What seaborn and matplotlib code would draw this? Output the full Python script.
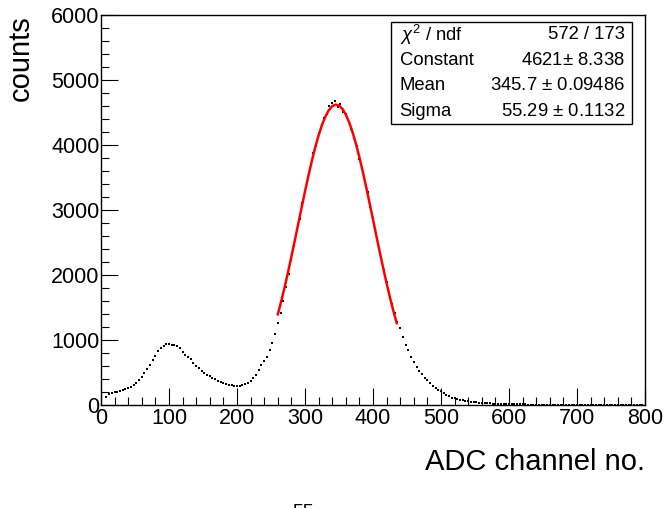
"""ADC spectrum with gaussian fit on the main peak (ROOT-like look)."""
import numpy as np
import pandas as pd
import matplotlib
matplotlib.use('Agg')
import matplotlib.pyplot as plt
import seaborn as sns
from matplotlib.ticker import MultipleLocator

# histogram bin centres (channel) and counts
channel = np.arange(8, 800, 4)
counts = [
    128, 165, 180, 192, 205, 215, 228, 245, 262, 280,
    305, 340, 385, 430, 490, 555, 620, 690, 760, 830,
    880, 915, 935, 940, 930, 925, 905, 870, 815, 775,
    735, 700, 640, 600, 565, 530, 495, 465, 440, 415,
    395, 375, 355, 340, 325, 310, 300, 295, 285, 290,
    305, 320, 340, 370, 410, 465, 540, 610, 680, 745,
    840, 960, 1090, 1260, 1420, 1600, 1810, 2010, 2230, 2440,
    2700, 2860, 3110, 3270, 3500, 3650, 3870, 3990, 4180, 4260,
    4420, 4470, 4600, 4650, 4670, 4580, 4630, 4510, 4480, 4350,
    4240, 4100, 3990, 3790, 3650, 3430, 3270, 3040, 2870, 2640,
    2460, 2270, 2080, 1890, 1720, 1560, 1410, 1280, 1180, 1040,
    930, 840, 740, 660, 590, 530, 470, 420, 380, 335,
    295, 265, 235, 210, 180, 155, 135, 115, 100, 88,
    78, 70, 62, 55, 50, 45, 40, 36, 33, 30,
    27, 25, 22, 20, 18, 17, 15, 14, 12, 11,
    10, 10, 9, 8, 8, 7, 7, 6, 6, 5,
    5, 5, 4, 4, 4, 3, 4, 3, 3, 3,
    3, 2, 3, 2, 2, 2, 2, 2, 1, 2,
    1, 2, 1, 1, 1, 1, 1, 1, 1, 1,
    1, 0, 1, 1, 0, 1, 0, 1,
]

# red fit curve, read at 5-channel steps over the fit range
fit_x = list(range(260, 440, 5))
fit_y = [1390, 1593, 1810, 2040, 2281, 2530, 2782, 3035, 3284, 3524,
         3751, 3961, 4148, 4308, 4438, 4535, 4597, 4621, 4607, 4556,
         4469, 4348, 4195, 4016, 3812, 3590, 3352, 3105, 2853, 2600,
         2350, 2107, 1873, 1652, 1445, 1254]

stat_names = [r'$\chi^{2}$ / ndf', 'Constant', 'Mean', 'Sigma']
stat_values = ['572 / 173', '4621$\\pm$ 8.338', '345.7 $\\pm$ 0.09486',
               '55.29 $\\pm$ 0.1132']

sns.set_style('ticks')
plt.rcParams['font.family'] = ['Liberation Sans', 'DejaVu Sans']
plt.rcParams['mathtext.fontset'] = 'custom'
plt.rcParams['mathtext.rm'] = 'Liberation Sans'
plt.rcParams['mathtext.it'] = 'Liberation Sans:italic'
for key in ['text.color', 'axes.labelcolor', 'xtick.color', 'ytick.color',
            'axes.edgecolor']:
    plt.rcParams[key] = 'black'

df = pd.DataFrame({'channel': channel, 'counts': counts})
fit = pd.DataFrame({'x': fit_x, 'y': fit_y})

fig = plt.figure(figsize=(6.7, 5.08), dpi=100)
ax = fig.add_axes([0.1507, 0.2028, 0.812, 0.7677])

sns.scatterplot(data=df, x='channel', y='counts', ax=ax, color='black',
                s=4, marker='s', linewidth=0, legend=False)
sns.lineplot(data=fit, x='x', y='y', ax=ax, color='red', linewidth=1.8,
             legend=False)

ax.set_xlim(0, 800)
ax.set_ylim(0, 6000)
ax.xaxis.set_major_locator(MultipleLocator(100))
ax.xaxis.set_minor_locator(MultipleLocator(20))
ax.yaxis.set_major_locator(MultipleLocator(1000))
ax.yaxis.set_minor_locator(MultipleLocator(200))
ax.tick_params(which='both', direction='in', top=False, right=False,
               labelsize=15.5, width=0.8)
ax.tick_params(axis='x', which='major', length=12, pad=2)
ax.tick_params(axis='x', which='minor', length=6)
ax.tick_params(axis='y', which='major', length=12, pad=1)
ax.tick_params(axis='y', which='minor', length=6)
for sp in ax.spines.values():
    sp.set_visible(True)
    sp.set_linewidth(1.0)

ax.set_xlabel('ADC channel no.', fontsize=21, loc='right', labelpad=14)
ax.set_ylabel('counts', fontsize=21, loc='top', labelpad=12)

# stats box
bx0, by0, bx1, by1 = 0.533, 0.7205, 0.976, 0.982
ax.add_patch(plt.Rectangle((bx0, by0), bx1 - bx0, by1 - by0,
                           transform=ax.transAxes, facecolor='white',
                           edgecolor='black', linewidth=1.0, zorder=5))
row_h = (by1 - by0) / 4
for i, (nm, val) in enumerate(zip(stat_names, stat_values)):
    yc = by1 - row_h * (i + 0.5)
    ax.text(bx0 + 0.016, yc, nm, transform=ax.transAxes, fontsize=13.3,
            ha='left', va='center', zorder=6)
    ax.text(bx1 - 0.013, yc, val, transform=ax.transAxes, fontsize=13.3,
            ha='right', va='center', zorder=6)

# cut-off title at the bottom edge
fig.text(303 / 670, 0.007, '55', fontsize=14, ha='center', va='top')

fig.savefig('out.png', dpi=100)
